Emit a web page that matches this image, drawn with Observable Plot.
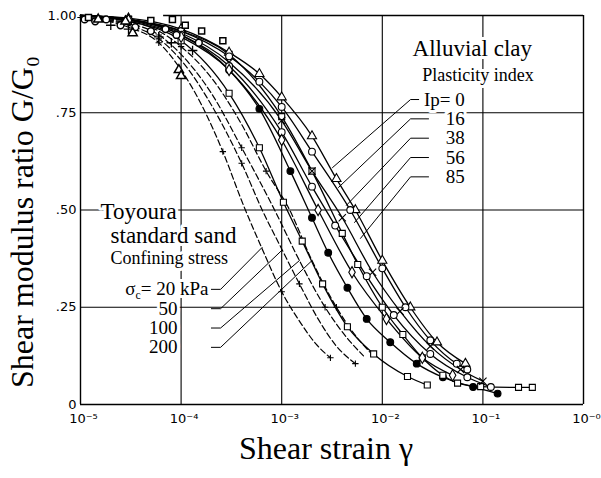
<!DOCTYPE html>
<html>
<head>
<meta charset="utf-8">
<script src="https://cdn.jsdelivr.net/npm/d3@7"></script>
<script src="https://cdn.jsdelivr.net/npm/@observablehq/plot@0.6"></script>
<style>
  html, body { margin: 0; padding: 0; background: #fff; }
  svg { display: block; }
</style>
</head>
<body>
<div id="chart"></div>
<script>
// Axis ticks
const strainTicks = [1e-5, 1e-4, 1e-3, 1e-2, 1e-1, 1];
const strainTickLabels = ["10⁻⁵", "10⁻⁴", "10⁻³", "10⁻²", "10⁻¹", "10⁻⁰"];
const ratioTicks = [0, 0.25, 0.5, 0.75, 1];
const ratioTickLabels = ["0", ".25", ".50", ".75", "1.00"];

// Toyoura standard sand, [shear strain, G/G0], one curve per confining stress
const sand20 = [[1e-5,0.995],[3e-5,0.97],[6e-5,0.93],[1e-4,0.86],[1.6e-4,0.77],[2.6e-4,0.65],[4.2e-4,0.51],[6.4e-4,0.40],[1e-3,0.29],[1.54e-3,0.21],[2.2e-3,0.155],[3.05e-3,0.12]];
const sand50 = [[1e-5,0.995],[3e-5,0.975],[6e-5,0.94],[1e-4,0.885],[2e-4,0.77],[4e-4,0.62],[6.4e-4,0.50],[1e-3,0.40],[1.5e-3,0.31],[2.3e-3,0.22],[3.5e-3,0.15],[5.4e-3,0.105]];
const sand100 = [[1e-5,0.995],[3e-5,0.98],[6e-5,0.95],[1e-4,0.90],[2e-4,0.80],[4e-4,0.66],[8.5e-4,0.50],[1.5e-3,0.37],[2.7e-3,0.25],[4.5e-3,0.17],[6.5e-3,0.125]];
const sand200 = [[1e-5,0.995],[3e-5,0.985],[6e-5,0.96],[1e-4,0.92],[2e-4,0.84],[4e-4,0.72],[7e-4,0.60],[1.2e-3,0.50],[2e-3,0.37],[3.5e-3,0.25],[5.5e-3,0.175],[7.5e-3,0.135]];

// Alluvial clay test curves, [shear strain, G/G0]
const clayA = [[1e-5,1.0],[3e-5,0.985],[1e-4,0.935],[3e-4,0.80],[6e-4,0.66],[1.04e-3,0.52],[1.6e-3,0.42],[2.55e-3,0.31],[4.5e-3,0.20],[8.2e-3,0.13],[1.78e-2,0.072],[2.8e-2,0.05]];
const clayB = [[1e-5,1.0],[3e-5,0.99],[1e-4,0.95],[3e-4,0.86],[6e-4,0.76],[1.22e-3,0.60],[2e-3,0.48],[2.9e-3,0.39],[4.5e-3,0.30],[7e-3,0.22],[1.2e-2,0.16],[2.2e-2,0.105],[4e-2,0.07],[8e-2,0.045],[1.4e-1,0.028]];
const clayC = [[1e-5,1.0],[3e-5,0.99],[1e-4,0.96],[3e-4,0.90],[1e-3,0.74],[2e-3,0.60],[4e-3,0.44],[5.7e-3,0.36],[1e-2,0.25],[1.6e-2,0.18],[2.5e-2,0.12],[4e-2,0.075],[5.6e-2,0.055],[9.5e-2,0.046],[0.226,0.044],[0.31,0.044]];
const clayD = [[1e-5,1.0],[3e-5,0.993],[1e-4,0.965],[3e-4,0.905],[6e-4,0.85],[1e-3,0.79],[2e-3,0.69],[3.5e-3,0.58],[5.4e-3,0.50],[1e-2,0.37],[1.9e-2,0.25],[3.5e-2,0.16],[6.7e-2,0.105]];
const clayE = [[1e-5,1.0],[3e-5,0.99],[1e-4,0.96],[3e-4,0.895],[6e-4,0.83],[1e-3,0.765],[2e-3,0.65],[4.8e-3,0.50],[1e-2,0.35],[1.7e-2,0.25],[3e-2,0.165],[5.5e-2,0.105],[7e-2,0.09]];
const clayF = [[1e-5,1.0],[3e-5,0.99],[1e-4,0.955],[3e-4,0.88],[1e-3,0.73],[2e-3,0.60],[4e-3,0.48],[8e-3,0.34],[1.5e-2,0.24],[3e-2,0.15],[6e-2,0.09],[1e-1,0.06]];
const clayG = [[1e-5,1.0],[3e-5,0.99],[1e-4,0.95],[3e-4,0.87],[1e-3,0.70],[2e-3,0.56],[3.4e-3,0.46],[7e-3,0.33],[1.3e-2,0.23],[3e-2,0.13],[7e-2,0.07],[1.2e-1,0.045]];
const clayH = [[1e-5,1.0],[3e-5,0.988],[1e-4,0.945],[3e-4,0.86],[1e-3,0.68],[2.3e-3,0.50],[5e-3,0.34],[1.1e-2,0.22],[2.5e-2,0.12],[5e-2,0.075]];

// Scattered low-strain test points
const lowCircles = [[1.1e-5,0.99],[1.4e-5,0.985],[1.8e-5,0.99],[2.5e-5,0.975],[3.5e-5,0.97],[5e-5,0.96],[7e-5,0.965],[9e-5,0.95],[1.5e-4,0.93]];
const lowSquares = [[1.2e-5,0.995],[5e-5,0.987],[8.2e-5,0.99],[1.1e-4,0.975],[1.6e-4,0.96],[2.6e-4,0.935]];
const lowTriangles = [[1.5e-5,0.99],[2.8e-5,0.985],[3.3e-5,0.955],[9.5e-5,0.86],[1e-4,0.845]];
const lowCrosses = [[2e-5,0.975],[3e-5,0.965],[6e-5,0.945],[8e-5,0.93],[1.3e-4,0.91]];

// Legend text
const plasticity = ["Ip= 0", "16", "38", "56", "85"];
const confining = ["σc= 20 kPa", "50", "100", "200"];

const serif = "Liberation Serif, Times New Roman, serif";
const strainLabel = new Map(strainTicks.map((t, i) => [t, strainTickLabels[i]]));
const ratioLabel = new Map(ratioTicks.map((t, i) => [t, ratioTickLabels[i]]));

const toRows = (name, pts) => pts.map(([gamma, ratio]) => ({name, gamma, ratio}));
const sandRows = [
  ...toRows("20", sand20), ...toRows("50", sand50),
  ...toRows("100", sand100), ...toRows("200", sand200)
];
const claySeries = [
  {name: "A", pts: clayA, symbol: "square", fill: "white"},
  {name: "B", pts: clayB, symbol: "circle", fill: "black"},
  {name: "C", pts: clayC, symbol: "square", fill: "white"},
  {name: "D", pts: clayD, symbol: "triangle", fill: "white"},
  {name: "E", pts: clayE, symbol: "circle", fill: "white"},
  {name: "F", pts: clayF, symbol: "times", fill: "none"},
  {name: "G", pts: clayG, symbol: "circle", fill: "white"},
  {name: "H", pts: clayH, symbol: "diamond", fill: "white"}
];
const clayRows = claySeries.flatMap(s => toRows(s.name, s.pts));

// Leader lines from the legend rows to their curves
const ipRow = i => 0.784 - i * 0.0497;
const ipTips = [[3.2e-3, 0.609], [3.67e-3, 0.558], [4.4e-3, 0.512], [5.3e-3, 0.468], [6.07e-3, 0.427]];
const ipLeaders = plasticity.flatMap((_, i) => [
  {k: i, gamma: i === 0 ? 2.3e-2 : 2.88e-2, ratio: ipRow(i)},
  {k: i, gamma: 1.91e-2, ratio: ipRow(i)},
  {k: i, gamma: ipTips[i][0], ratio: ipTips[i][1]}
]);
const sandRow = i => 0.296 - i * 0.0497;
const sandTips = [[6.4e-4, 0.404], [1e-3, 0.396], [1.5e-3, 0.37], [2e-3, 0.37]];
const sandLeaders = confining.flatMap((_, i) => [
  {k: i, gamma: 2.0e-4, ratio: sandRow(i)},
  {k: i, gamma: 2.47e-4, ratio: sandRow(i)},
  {k: i, gamma: sandTips[i][0], ratio: sandTips[i][1]}
]);

const halo = {stroke: "white", strokeWidth: 6, paintOrder: "stroke", fill: "black", fontFamily: serif};

const marks = [
  // grid and frame
  Plot.ruleX(strainTicks.slice(1, 5), {stroke: "black", strokeWidth: 1.1}),
  Plot.ruleY(ratioTicks.slice(1, 4), {stroke: "black", strokeWidth: 1.1}),
  Plot.ruleX([1e-5, 1], {stroke: "black", strokeWidth: 1.4}),
  Plot.ruleY([0], {stroke: "black", strokeWidth: 1.4}),
  Plot.ruleY([1], {x1: 6.7e-5, x2: 1, stroke: "black", strokeWidth: 1.4}),

  // legend text (halo opens the grid lines behind it)
  Plot.text(["Alluvial clay"], {...halo, x: () => 2.0e-2, y: () => 0.915, textAnchor: "start", fontSize: 23}),
  Plot.text(["Plasticity index"], {...halo, x: () => 2.5e-2, y: () => 0.846, textAnchor: "start", fontSize: 18}),
  Plot.text(plasticity, {...halo, x: () => 6.6e-2, y: (d, i) => ipRow(i), textAnchor: "end", fontSize: 19}),
  Plot.text(["Toyoura"], {...halo, x: () => 1.58e-5, y: () => 0.496, textAnchor: "start", fontSize: 23}),
  Plot.text(["standard sand"], {...halo, x: () => 1.99e-5, y: () => 0.434, textAnchor: "start", fontSize: 23}),
  Plot.text(["Confining stress"], {...halo, x: () => 1.99e-5, y: () => 0.375, textAnchor: "start", fontSize: 18}),
  Plot.text(confining, {...halo, x: (d, i) => i === 0 ? 1.87e-4 : 9.2e-5, y: (d, i) => sandRow(i), textAnchor: "end", fontSize: 19}),

  // curves
  Plot.line(sandRows, {x: "gamma", y: "ratio", z: "name", curve: "monotone-x", stroke: "black", strokeWidth: 1.2, strokeDasharray: "6,3"}),
  Plot.line(clayRows, {x: "gamma", y: "ratio", z: "name", curve: "monotone-x", stroke: "black", strokeWidth: 1.3}),

  // leaders
  Plot.line(ipLeaders, {x: "gamma", y: "ratio", z: "k", stroke: "black", strokeWidth: 1}),
  Plot.line(sandLeaders, {x: "gamma", y: "ratio", z: "k", stroke: "black", strokeWidth: 1}),

  // test points
  Plot.dot(sandRows.filter((d, i) => i % 3 === 2), {x: "gamma", y: "ratio", symbol: "plus", r: 2.2, stroke: "black", strokeWidth: 1.1}),
  ...claySeries.map(s => Plot.dot(toRows(s.name, s.pts.slice(1)), {
    x: "gamma", y: "ratio", symbol: s.symbol, r: 3.4,
    fill: s.fill, stroke: "black", strokeWidth: 1.1
  })),
  Plot.dot(toRows("c", lowCircles), {x: "gamma", y: "ratio", symbol: "circle", r: 3.4, fill: "white", stroke: "black"}),
  Plot.dot(toRows("s", lowSquares), {x: "gamma", y: "ratio", symbol: "square", r: 3.4, fill: "white", stroke: "black"}),
  Plot.dot(toRows("t", lowTriangles), {x: "gamma", y: "ratio", symbol: "triangle", r: 3.4, fill: "white", stroke: "black"}),
  Plot.dot(toRows("x", lowCrosses), {x: "gamma", y: "ratio", symbol: "plus", r: 3.2, stroke: "black", strokeWidth: 1.3}),

  // axes
  Plot.axisX({ticks: strainTicks, tickFormat: d => strainLabel.get(d), tickSize: 0, tickPadding: 9, dx: 3, label: null, fontSize: 13}),
  Plot.axisY({ticks: ratioTicks, tickFormat: d => ratioLabel.get(d), tickSize: 0, tickPadding: 4, label: null, fontSize: 13}),
  Plot.text(["Shear modulus ratio G/G₀"], {frameAnchor: "left", textAnchor: "middle", rotate: -90, dx: -58, dy: 12, fontSize: 32, fontFamily: serif}),
  Plot.text(["Shear strain γ"], {frameAnchor: "bottom", textAnchor: "middle", dx: -6, dy: 54, fontSize: 32, fontFamily: serif})
];

const chart = Plot.plot({
  width: 601,
  height: 478,
  marginLeft: 80,
  marginRight: 18,
  marginTop: 15,
  marginBottom: 74,
  x: {type: "log", domain: [1e-5, 1]},
  y: {domain: [0, 1]},
  style: {fontFamily: "DejaVu Sans", fontSize: "13px", background: "white", color: "black", overflow: "visible"},
  marks
});

// subscript c in the confining stress symbol
d3.select(chart).selectAll("text")
  .filter(function () { return this.textContent === "σc= 20 kPa"; })
  .each(function () {
    const t = d3.select(this);
    t.text(null);
    t.append("tspan").text("σ");
    t.append("tspan").attr("font-size", 12).attr("dy", "4").text("c");
    t.append("tspan").attr("dy", "-4").text("= 20 kPa");
  });

document.getElementById("chart").append(chart);
</script>
</body>
</html>
